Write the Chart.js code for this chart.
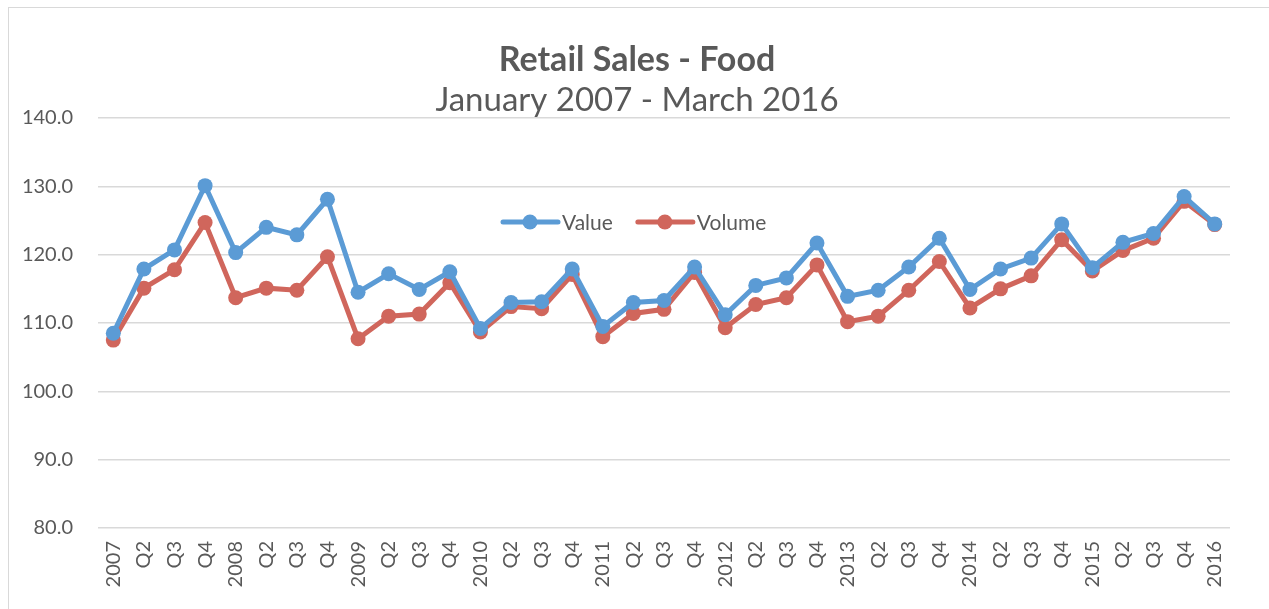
<!DOCTYPE html>
<html lang="en">
<head>
    <meta charset="UTF-8">
    <title>Retail Sales - Food</title>
    <script src="https://cdn.jsdelivr.net/npm/chart.js@4/dist/chart.umd.min.js"></script>
    <style>
        html, body {
            margin: 0;
            padding: 0;
            background: #fff;
            overflow: hidden;
        }

        .frame {
            position: absolute;
            left: 8px;
            top: 7px;
            width: 1300px;
            height: 700px;
            border: 1px solid #d9d9d9;
        }

        .chart_box {
            position: absolute;
            left: 0;
            top: 0;
            width: 1269px;
            height: 609px;
        }
    </style>
</head>
<body>
<div class="frame"></div>
<div class="chart_box">
    <canvas id="salesChart" width="1269" height="609"></canvas>
</div>
<script>
    // quarters, Jan 2007 - Mar 2016
    const categories = [
        '2007', 'Q2', 'Q3', 'Q4',
        '2008', 'Q2', 'Q3', 'Q4',
        '2009', 'Q2', 'Q3', 'Q4',
        '2010', 'Q2', 'Q3', 'Q4',
        '2011', 'Q2', 'Q3', 'Q4',
        '2012', 'Q2', 'Q3', 'Q4',
        '2013', 'Q2', 'Q3', 'Q4',
        '2014', 'Q2', 'Q3', 'Q4',
        '2015', 'Q2', 'Q3', 'Q4',
        '2016'
    ];

    const valueSeries = [
        108.5, 117.9, 120.7, 130.1,
        120.3, 124.0, 122.9, 128.1,
        114.5, 117.2, 114.9, 117.5,
        109.2, 113.0, 113.1, 117.9,
        109.5, 113.0, 113.3, 118.2,
        111.2, 115.5, 116.6, 121.7,
        113.9, 114.8, 118.2, 122.4,
        114.9, 117.9, 119.5, 124.5,
        118.1, 121.8, 123.1, 128.5,
        124.5
    ];

    const volumeSeries = [
        107.5, 115.1, 117.8, 124.7,
        113.7, 115.1, 114.8, 119.7,
        107.7, 111.0, 111.3, 115.9,
        108.7, 112.4, 112.1, 117.1,
        108.0, 111.4, 112.0, 117.4,
        109.3, 112.7, 113.7, 118.5,
        110.2, 111.0, 114.8, 119.0,
        112.2, 115.0, 116.9, 122.2,
        117.6, 120.6, 122.4, 127.8,
        124.4
    ];

    const yMin = 80;
    const yMax = 140;
    const yStep = 10;

    const FONT = 'Lato, "Open Sans", sans-serif';
    const TEXT = '#595959';

    // legend drawn inside the plot, like the original
    const innerLegend = {
        id: 'innerLegend',
        afterDraw(chart) {
            const ctx = chart.ctx;
            const area = chart.chartArea;
            const cy = area.top + 104;
            let x = 503;
            ctx.save();
            ctx.font = '21px ' + FONT;
            ctx.textBaseline = 'middle';
            ctx.textAlign = 'left';
            chart.data.datasets.forEach(function(ds) {
                ctx.strokeStyle = ds.borderColor;
                ctx.lineWidth = 5;
                ctx.lineCap = 'round';
                ctx.beginPath();
                ctx.moveTo(x, cy);
                ctx.lineTo(x + 55, cy);
                ctx.stroke();
                ctx.fillStyle = ds.borderColor;
                ctx.beginPath();
                ctx.arc(x + 27, cy, 7.5, 0, Math.PI * 2);
                ctx.fill();
                ctx.fillStyle = TEXT;
                ctx.fillText(ds.label, x + 59, cy + 1);
                x += 59 + ctx.measureText(ds.label).width + 25;
            });
            ctx.restore();
        }
    };

    const ctx1 = document.getElementById('salesChart').getContext('2d');
    const salesChart = new Chart(ctx1, {
        type: 'line',
        data: {
            labels: categories,
            datasets: [{
                label: 'Value',
                data: valueSeries,
                borderColor: '#5b9bd5',
                backgroundColor: '#5b9bd5',
                borderWidth: 5,
                pointRadius: 7.5,
                pointBorderWidth: 0,
                tension: 0
            }, {
                label: 'Volume',
                data: volumeSeries,
                borderColor: '#d0665c',
                backgroundColor: '#d0665c',
                borderWidth: 5,
                pointRadius: 7.5,
                pointBorderWidth: 0,
                tension: 0
            }]
        },
        options: {
            responsive: false,
            animation: false,
            layout: {
                padding: { top: 0, left: 5, right: 0, bottom: 0 }
            },
            plugins: {
                legend: { display: false },
                tooltip: { enabled: false },
                title: {
                    display: true,
                    text: 'Retail Sales - Food',
                    color: TEXT,
                    font: { family: FONT, size: 34, weight: 'bold', lineHeight: 1 },
                    padding: { top: 43, bottom: 0 }
                },
                subtitle: {
                    display: true,
                    text: 'January 2007 - March 2016',
                    color: TEXT,
                    font: { family: FONT, size: 33, weight: 'normal', lineHeight: 1 },
                    padding: { top: 7, bottom: 1 }
                }
            },
            scales: {
                x: {
                    offset: true,
                    grid: { display: false, drawTicks: false },
                    border: { display: false },
                    ticks: {
                        color: TEXT,
                        font: { family: FONT, size: 20 },
                        minRotation: 90,
                        maxRotation: 90,
                        autoSkip: false,
                        padding: 13
                    },
                    afterFit(scale) {
                        scale.height = 81;
                    }
                },
                y: {
                    min: yMin,
                    max: yMax,
                    grid: { color: '#d9d9d9', lineWidth: 1.5, drawTicks: false },
                    border: { display: false },
                    ticks: {
                        stepSize: yStep,
                        color: TEXT,
                        font: { family: FONT, size: 20 },
                        padding: 25,
                        callback: function(v) { return v.toFixed(1); }
                    },
                    afterFit(scale) {
                        scale.width = 93;
                    }
                },
                // empty right margin, so the titles stay centred on the whole frame
                spacer: {
                    position: 'right',
                    grid: { display: false, drawTicks: false },
                    border: { display: false },
                    ticks: { display: false },
                    afterFit(scale) {
                        scale.width = 39;
                    }
                }
            }
        },
        plugins: [innerLegend]
    });
</script>
</body>
</html>
